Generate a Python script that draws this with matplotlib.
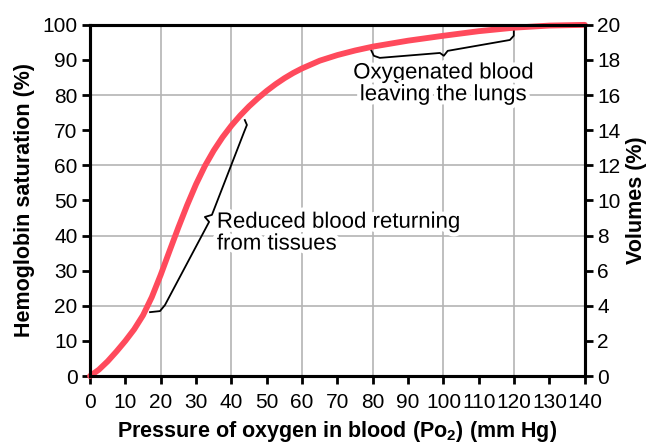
import matplotlib
matplotlib.use("Agg")
import matplotlib.pyplot as plt
import matplotlib.patheffects as pe

plt.rcParams['font.family'] = ['Liberation Sans', 'DejaVu Sans']
plt.rcParams['mathtext.fontset'] = 'custom'
plt.rcParams['mathtext.bf'] = 'Liberation Sans:bold'
plt.rcParams['mathtext.rm'] = 'Liberation Sans'

# Oxygen-hemoglobin dissociation curve
po2 = [0, 2.5, 5, 7.5, 10, 12.5, 15, 17.5, 20, 22.5, 25, 27.5, 30, 32.5, 35, 37.5,
       40, 42.5, 45, 47.5, 50, 52.5, 55, 57.5, 60, 65, 70, 75, 80, 90, 100, 110,
       120, 130, 140]
saturation = [0, 1.8, 4.2, 7, 10, 13.3, 17.3, 22.5, 28.8, 35.6, 42.3, 48.7, 54.6,
              59.8, 64.2, 68.0, 71.3, 74.2, 76.8, 79.1, 81.2, 83.1, 84.8, 86.3,
              87.6, 89.8, 91.4, 92.7, 93.8, 95.5, 96.9, 98.2, 99.2, 99.8, 100]

x_ticks = list(range(0, 141, 10))
left_ticks = list(range(0, 101, 10))
right_ticks = list(range(0, 21, 2))
grid_x = [20, 40, 60, 80, 100, 120]
grid_y = [20, 40, 60, 80]

# brace outlines (data coords)
reduced_brace_x = [17.0, 19.8, 21.2, 33.7, 32.5, 34.5, 43.6, 44.4, 43.8]
reduced_brace_y = [18.2, 18.5, 20.2, 43.9, 45.3, 45.9, 69.5, 71.5, 72.9]
oxy_brace_x = [79.5, 80.3, 82.0, 99.0, 100.1, 101.2, 118.8, 119.9, 119.9]
oxy_brace_y = [92.9, 91.2, 90.6, 92.0, 91.2, 92.6, 95.7, 96.9, 98.3]

fig = plt.figure(figsize=(6.52, 4.44), dpi=100)
ax = fig.add_axes([0.138, 0.153, 0.759, 0.791])

for gx in grid_x:
    ax.axvline(gx, color='#b4b4b4', lw=1.2, zorder=0)
for gy in grid_y:
    ax.axhline(gy, color='#b4b4b4', lw=1.2, zorder=0)

ax.plot(po2, saturation, color='#ff4a5c', lw=4.2, solid_capstyle='round',
        solid_joinstyle='round', zorder=5, clip_on=False)

ax.plot(reduced_brace_x, reduced_brace_y, color='black', lw=1.3, zorder=4)
ax.plot(oxy_brace_x, oxy_brace_y, color='black', lw=1.3, zorder=4)

halo = [pe.withStroke(linewidth=6, foreground='white')]
ax.text(35.9, 40.7, 'Reduced blood returning\nfrom tissues', fontsize=16,
        ha='left', va='center', linespacing=1.05, zorder=3, path_effects=halo)
ax.text(100, 83.2, 'Oxygenated blood\nleaving the lungs', fontsize=16,
        ha='center', va='center', linespacing=1.05, zorder=3, path_effects=halo)

ax.set_xlim(0, 140)
ax.set_ylim(0, 100)
ax.set_xticks(x_ticks)
ax.set_yticks(left_ticks)
ax.tick_params(labelsize=15, width=2, length=6, direction='out', pad=3)
ax.tick_params(axis='x', pad=6)
for s in ax.spines.values():
    s.set_linewidth(2.2)

ax2 = ax.twinx()
ax2.set_ylim(0, 20)
ax2.set_yticks(right_ticks)
ax2.tick_params(labelsize=15, width=2, length=6, direction='out', pad=3)
for s in ax2.spines.values():
    s.set_linewidth(2.2)

ax.set_xlabel(r'Pressure of oxygen in blood ($\mathbf{Po_2}$) (mm Hg)',
              fontsize=15.5, fontweight='bold', labelpad=5)
ax.set_ylabel('Hemoglobin saturation (%)', fontsize=15.5, fontweight='bold', labelpad=5)
ax2.set_ylabel('Volumes (%)', fontsize=15.5, fontweight='bold', labelpad=4)

fig.savefig('out.png', dpi=100)
